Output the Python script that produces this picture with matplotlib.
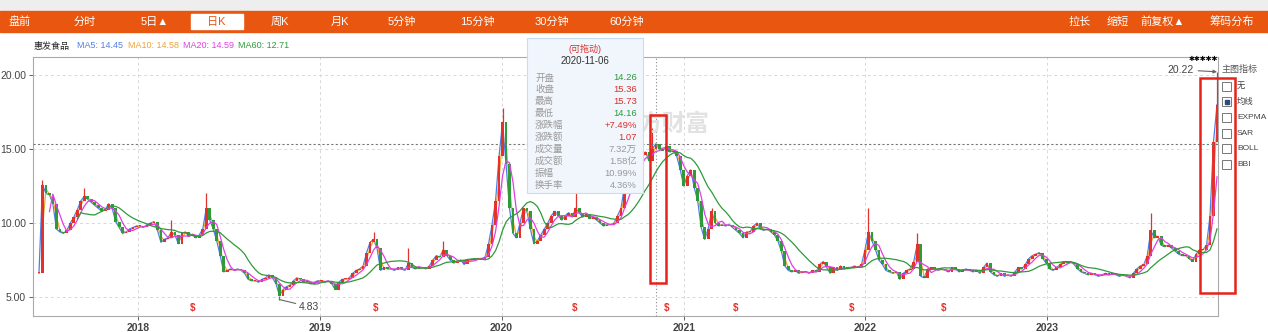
import numpy as np
import pandas as pd
import matplotlib
matplotlib.use("Agg")
import matplotlib.pyplot as plt
import matplotlib.dates as mdates
from matplotlib.patches import Rectangle

plt.rcParams['font.family'] = ['Liberation Sans', 'Noto Sans CJK SC']

W, H = 1268, 332

# weekly closes, one list per year
close_2017 = [6.6, 12.6, 12.0, 11.9, 11.3, 9.6, 9.4, 9.3, 9.5, 10.0, 10.4, 10.9, 11.5, 11.8, 11.6,
              11.4, 11.2, 11.0, 10.8, 10.9, 11.3, 11.0, 10.1, 9.7, 9.3, 9.4, 9.6, 9.7, 9.8]
close_2018 = [9.8, 9.7, 9.9, 10.0, 10.1, 9.5, 8.7, 8.9, 9.0, 9.4, 9.2, 8.6, 9.3, 9.4, 9.1, 9.2, 9.0,
              9.2, 9.6, 11.0, 10.2, 9.6, 8.8, 7.8, 6.7, 6.8, 6.9, 6.8, 6.9, 6.8, 6.6, 6.2, 6.1, 6.1,
              6.0, 6.2, 6.3, 6.5, 6.3, 5.9, 5.1, 5.5, 5.7, 5.8, 6.1, 6.3, 6.2, 6.0, 6.0, 5.9, 6.0, 6.1]
close_2019 = [6.1, 6.0, 6.1, 5.9, 5.5, 6.0, 6.2, 6.2, 6.3, 6.6, 6.8, 6.9, 7.1, 8.0, 8.7, 8.9, 8.3,
              6.8, 7.0, 6.9, 6.9, 6.8, 7.0, 6.9, 6.8, 7.3, 7.0, 6.9, 7.0, 7.0, 6.9, 7.1, 7.5, 7.8,
              7.7, 8.2, 7.8, 7.5, 7.3, 7.4, 7.5, 7.2, 7.5, 7.5, 7.6, 7.6, 7.6, 7.7, 8.6, 9.9, 11.5, 14.5]
close_2020 = [16.8, 14.0, 11.0, 9.3, 9.0, 10.0, 11.0, 10.8, 9.6, 8.6, 8.8, 9.2, 9.6, 10.0, 10.5,
              10.8, 10.5, 10.2, 10.5, 10.7, 10.4, 11.0, 10.7, 10.4, 10.6, 10.3, 10.4, 10.2, 10.0,
              9.8, 9.9, 9.9, 10.0, 10.5, 11.0, 12.5, 12.3, 13.2, 13.8, 14.3, 14.6, 14.8, 14.2, 15.0,
              15.36, 15.0, 14.9, 15.2, 14.8, 14.9, 14.5, 13.6]
close_2021 = [12.5, 13.2, 13.6, 12.4, 11.5, 9.7, 8.9, 9.6, 10.8, 10.0, 9.8, 9.9, 9.8, 9.9, 9.7, 9.5,
              9.3, 9.0, 9.4, 9.4, 9.8, 10.0, 9.6, 9.5, 9.6, 9.4, 9.2, 8.8, 8.1, 7.1, 6.8, 6.7, 6.8,
              6.6, 6.7, 6.7, 6.6, 6.8, 6.7, 7.2, 7.4, 7.0, 6.6, 7.0, 6.8, 7.1, 6.9, 7.0, 7.0, 7.1,
              7.0, 7.2, 8.2]
close_2022 = [9.4, 8.8, 8.2, 7.5, 7.2, 6.8, 6.7, 6.6, 6.7, 6.2, 6.6, 6.8, 6.9, 7.4, 8.6, 6.4, 6.3,
              6.9, 7.0, 6.9, 6.8, 6.9, 6.8, 6.7, 7.0, 6.9, 6.7, 6.8, 6.9, 6.8, 6.7, 6.8, 6.6, 7.0,
              7.3, 6.7, 6.5, 6.4, 6.6, 6.4, 6.5, 6.4, 6.7, 7.0, 6.9, 7.2, 7.6, 7.8, 7.9, 8.0, 7.6, 7.3]
close_2023 = [6.9, 6.8, 7.0, 7.2, 7.4, 7.3, 7.4, 7.2, 6.9, 6.7, 6.6, 6.5, 6.6, 6.5, 6.4, 6.5, 6.6,
              6.5, 6.6, 6.5, 6.4, 6.5, 6.4, 6.3, 6.6, 6.9, 7.1, 7.2, 7.8, 9.5, 9.0, 9.1, 8.5, 8.4,
              8.5, 8.3, 8.1, 7.9, 7.8, 7.8, 7.6, 7.4, 7.9, 8.2, 8.2, 8.5, 10.5, 15.5, 18.0]
first_week = "2017-06-16"

# long upper / lower shadows
spike_idx = [1, 13, 38, 48, 96, 106, 116, 133, 154, 168, 176, 193, 238, 252, 319, 338]
spike_high = [12.9, 12.4, 10.2, 12.0, 9.4, 8.3, 8.8, 17.8, 12.0, 15.8, 16.4, 11.0, 11.0, 9.3, 10.7, 20.22]
low_idx = [69]
low_val = [4.83]

ma_names = ['MA5', 'MA10', 'MA20', 'MA60']
ma_weeks = [1, 2, 4, 12]
ma_colors = ['#4f7fe3', '#eea236', '#e23ee3', '#2f9a3a']
ma_header = ['14.45', '14.58', '14.59', '12.71']

div_dates = ['2018-04-20', '2019-04-23', '2020-05-26', '2020-11-27', '2021-04-16', '2021-12-05', '2022-06-07']

hover_date = '2020-11-06'
hover_price = 15.36
tip_labels = ['开盘', '收盘', '最高', '最低', '涨跌幅', '涨跌额', '成交量', '成交额', '振幅', '换手率']
tip_values = ['14.26', '15.36', '15.73', '14.16', '+7.49%', '1.07', '7.32万', '1.58亿', '10.99%', '4.36%']
tip_colors = ['#2a9a3a', '#d9302a', '#d9302a', '#2a9a3a', '#d9302a', '#d9302a', '#999999', '#999999', '#999999', '#999999']

tabs_left = ['盘前', '分时', '5日▲', '日K', '周K', '月K', '5分钟', '15分钟', '30分钟', '60分钟']
tabs_left_x = [20, 85, 155, 216, 280, 340, 402, 477, 552, 627]
tabs_right = ['拉长', '缩短', '前复权▲', '筹码分布']
tabs_right_x = [1080, 1118, 1163, 1232]

ind_labels = ['无', '均线', 'EXPMA', 'SAR', 'BOLL', 'BBI']

closes = np.array(close_2017 + close_2018 + close_2019 + close_2020 + close_2021 + close_2022 + close_2023)
dates = pd.date_range(first_week, periods=len(closes), freq='7D')
x = mdates.date2num(dates)
opens = np.concatenate([[closes[0]], closes[:-1]])


def px(xp, yp):
    return xp / W, 1 - yp / H


fig = plt.figure(figsize=(W / 100, H / 100), dpi=100)
ax = fig.add_axes([33 / W, 16 / H, (1218 - 33) / W, (316 - 57) / H])

# moving averages (weekly windows matching the daily ones)
s = pd.Series(closes)
for name, w, col in zip(ma_names, ma_weeks, ma_colors):
    ma = s.rolling(w).mean()
    z = {'MA5': 1.5, 'MA10': 2}.get(name, 4)
    ax.plot(x, ma, color=col, lw=0.9, zorder=z)

# candles
up = closes >= opens
cols = np.where(up, '#e3322b', '#2f9a3a')
body_lo = np.minimum(opens, closes)
body_h = np.maximum(np.abs(closes - opens), 0.06)
ax.bar(x, body_h, bottom=body_lo, width=5.5, color=cols, linewidth=0, zorder=3)
for i, hi in zip(spike_idx, spike_high):
    ax.vlines(x[i], max(opens[i], closes[i]), hi, color=cols[i], lw=0.9, zorder=3)
for i, lo in zip(low_idx, low_val):
    ax.vlines(x[i], lo, min(opens[i], closes[i]), color=cols[i], lw=0.9, zorder=3)

# min / max labels
ax.annotate('4.83', xy=(x[low_idx[0]], low_val[0]), xytext=(19, -7), textcoords='offset pixels',
            fontsize=7.5, color='#444444', va='center',
            arrowprops=dict(arrowstyle='-', color='#666666', lw=0.8, shrinkA=0, shrinkB=0))
ax.annotate('20.22', xy=(x[spike_idx[-1]], spike_high[-1]), xytext=(-23, 2), textcoords='offset pixels',
            fontsize=7.5, color='#444444', va='center', ha='right',
            arrowprops=dict(arrowstyle='-|>', color='#666666', lw=0.8, shrinkA=1, shrinkB=0,
                            mutation_scale=5))

# dividend markers
xt = ax.get_xaxis_transform()
for d in div_dates:
    ax.text(mdates.date2num(pd.Timestamp(d)), 0.03, '$', transform=xt, color='#e3322b',
            fontsize=7, ha='center', va='center', fontweight='bold')

# crosshair
hx = mdates.date2num(pd.Timestamp(hover_date))
ax.axhline(hover_price, color='#777777', lw=0.8, ls=(0, (2, 2)), zorder=5)
ax.axvline(hx, color='#888888', lw=0.8, ls=(0, (1, 2)), zorder=5, clip_on=False)

ax.set_xlim(mdates.date2num(pd.Timestamp('2017-06-04')), mdates.date2num(pd.Timestamp('2023-12-10')))
ax.set_ylim(3.72, 21.22)
ax.set_yticks([5, 10, 15, 20])
ax.set_yticklabels(['5.00', '10.00', '15.00', '20.00'])
years = [2018, 2019, 2020, 2021, 2022, 2023]
ax.set_xticks([mdates.date2num(pd.Timestamp(f'{y}-01-01')) for y in years])
ax.set_xticklabels([str(y) for y in years], fontweight='bold')
ax.tick_params(axis='both', labelsize=7.5, colors='#444444', length=3, width=0.6, pad=2)
ax.grid(True, color='#d8d8d8', lw=0.7, ls=(0, (3, 3)))
ax.set_axisbelow(True)
for sp in ax.spines.values():
    sp.set_color('#aaaaaa')
    sp.set_linewidth(0.8)

# top toolbar
fig.add_artist(Rectangle(px(0, 10), 1, 10 / H, transform=fig.transFigure, color='#eeeeee', zorder=0))
fig.add_artist(Rectangle(px(0, 32), 1, 21 / H, transform=fig.transFigure, color='#e8560f', zorder=1))
fig.add_artist(Rectangle(px(191, 29), 52 / W, 15 / H, transform=fig.transFigure, color='white', zorder=2))
for t, xp in zip(tabs_left, tabs_left_x):
    c = '#e8560f' if t == '日K' else 'white'
    fig.text(*px(xp, 21.5), t, color=c, fontsize=8, ha='center', va='center', zorder=3)
for t, xp in zip(tabs_right, tabs_right_x):
    fig.text(*px(xp, 21.5), t, color='white', fontsize=8, ha='center', va='center', zorder=3)

# header with MA values
fig.text(*px(33, 46), '惠发食品', fontsize=6.5, color='#222222', va='center')
hx0 = [77, 128, 183, 238]
for name, col, val, xp in zip(ma_names, ma_colors, ma_header, hx0):
    fig.text(*px(xp, 46), f'{name}: {val}', fontsize=6.5, color=col, va='center')

# watermark (the part not covered by the tooltip)
fig.text(*px(674, 124), '方财富', fontsize=17, color='#e2e2e2', ha='center', va='center',
         fontweight='bold', zorder=0.5)

# tooltip
fig.add_artist(Rectangle(px(527, 193), 116 / W, 155 / H, transform=fig.transFigure,
                         facecolor='#f1f6fc', edgecolor='#c9dcef', lw=0.8, zorder=6))
fig.text(*px(585, 49), '(可拖动)', fontsize=6.5, color='#d9302a', ha='center', va='center', zorder=7)
fig.text(*px(585, 61), hover_date, fontsize=7, color='#333333', ha='center', va='center', zorder=7)
for k, (lab, val, col) in enumerate(zip(tip_labels, tip_values, tip_colors)):
    yp = 78 + k * 11.9
    fig.text(*px(535, yp), lab, fontsize=6.8, color='#999999', va='center', zorder=7)
    fig.text(*px(637, yp), val, fontsize=6.8, color=col, va='center', ha='right', zorder=7)

# highlight boxes
for (x0, y0, x1, y1) in [(650, 115, 666, 283), (1200, 78, 1235, 293)]:
    fig.add_artist(Rectangle(px(x0, y1), (x1 - x0) / W, (y1 - y0) / H, transform=fig.transFigure,
                             fill=False, edgecolor='#e5231b', lw=1.8, zorder=8))

# event markers on top
fig.text(*px(1203, 59), '✱✱✱✱✱', fontsize=5, color='black', ha='center', va='center',
         family='DejaVu Sans', zorder=7)

# indicator panel
fig.text(*px(1222, 69), '主图指标', fontsize=6.5, color='#555555', va='center')
for k, lab in enumerate(ind_labels):
    yc = 86 + k * 15.7
    fig.add_artist(Rectangle(px(1222, yc + 4.5), 9 / W, 9 / H, transform=fig.transFigure,
                             facecolor='white', edgecolor='#777777', lw=0.7, zorder=9))
    if lab == '均线':
        fig.add_artist(Rectangle(px(1224.5, yc + 2), 4 / W, 4 / H, transform=fig.transFigure,
                                 color='#2b4b7a', zorder=10))
    fig.text(*px(1237, yc), lab, fontsize=6, color='#444444', va='center', zorder=9)

fig.savefig('out.png', dpi=100)
